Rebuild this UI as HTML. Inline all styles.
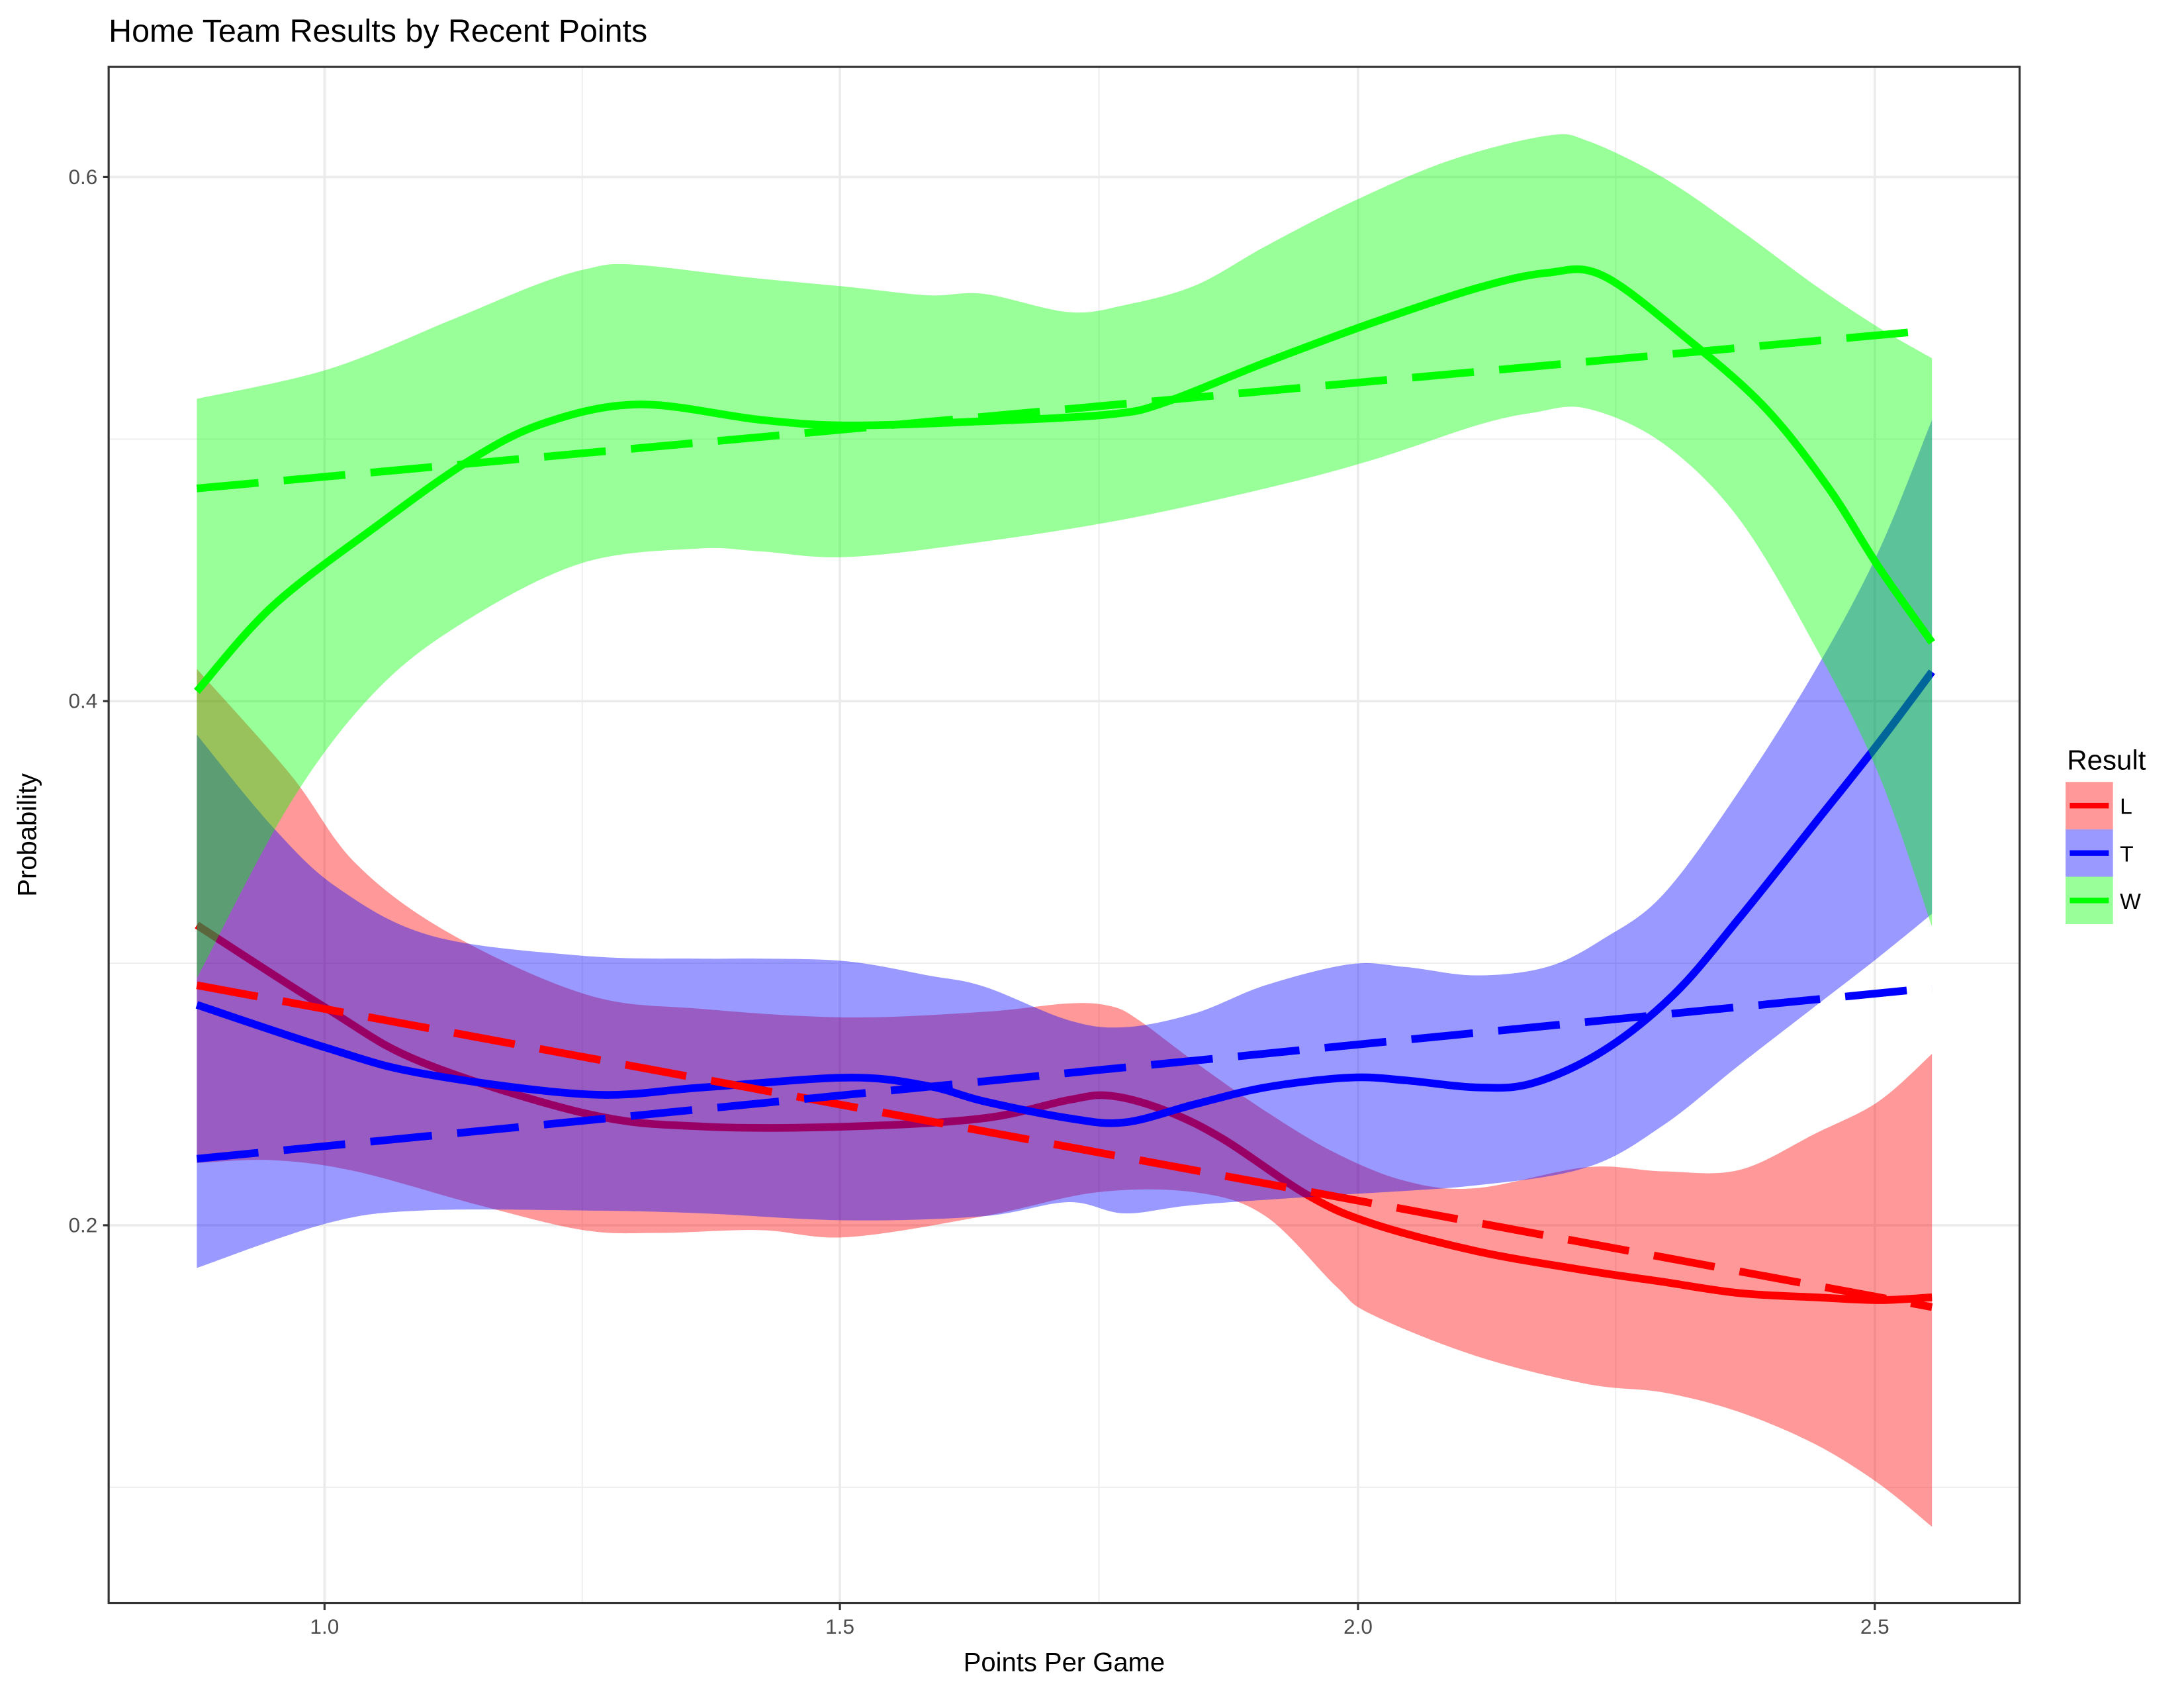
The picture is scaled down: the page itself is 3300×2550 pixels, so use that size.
<!DOCTYPE html>
<html><head><meta charset="utf-8"><style>html,body{margin:0;padding:0;background:#fff}svg{display:block}</style></head>
<body>
<svg id="s" width="3300" height="2550" viewBox="0 0 1568 1211" preserveAspectRatio="none" xmlns="http://www.w3.org/2000/svg" font-family="Liberation Sans, Arial, sans-serif">
<rect width="1600" height="1250" fill="#fff"/>
<text x="78" y="30" font-size="23" fill="#000">Home Team Results by Recent Points</text>
<g stroke="#EBEBEB">
<g stroke-width="0.8"><line x1="418" y1="48" x2="418" y2="1150"/><line x1="789" y1="48" x2="789" y2="1150"/><line x1="1160" y1="48" x2="1160" y2="1150"/>
<line x1="78" y1="315" x2="1450" y2="315"/><line x1="78" y1="691" x2="1450" y2="691"/><line x1="78" y1="1067" x2="1450" y2="1067"/></g>
<g stroke-width="1.7"><line x1="233" y1="48" x2="233" y2="1150"/><line x1="603" y1="48" x2="603" y2="1150"/><line x1="975" y1="48" x2="975" y2="1150"/><line x1="1346" y1="48" x2="1346" y2="1150"/>
<line x1="78" y1="127" x2="1450" y2="127"/><line x1="78" y1="503" x2="1450" y2="503"/><line x1="78" y1="879" x2="1450" y2="879"/></g>
</g>
<defs><clipPath id="c"><rect x="78" y="48" width="1372" height="1102"/></clipPath></defs>
<g clip-path="url(#c)">
<g transform="matrix(1.0095,0,0,1.004,0,-1)" stroke-linejoin="round" stroke-linecap="butt">
<polygon class="sm" fill="#FF0000" fill-opacity="0.4" points="140,479 207,555 253,618 320,668 418,712 500,722 603,728 700,724 760,718 790,720 810,730 850,760 900,795 950,825 1000,845 1050,850 1129,835 1183,838 1237,837 1291,811 1336,788 1374,754 1374,1092 1336,1061 1291,1033 1237,1010 1183,996 1129,990 1050,970 975,940 950,920 900,870 850,853 780,853 700,870 603,885 541,880 469,882 415,880 340,862 253,838 194,830 140,832"/>
<polyline class="sm" fill="none" stroke="#FF0000" stroke-width="5.5" points="140,662 233,722 300,760 418,797 500,806 603,806 700,800 760,787 790,784 830,795 870,815 930,855 975,875 1050,895 1129,909 1183,917 1237,925 1291,928 1336,930 1374,928"/>
<polygon class="sm" fill="#0000FF" fill-opacity="0.4" points="140,526 194,592 241,636 308,670 415,684 496,686 541,686 603,688 660,698 700,706 760,730 800,735 850,725 900,705 960,690 1000,692 1050,698 1100,692 1140,672 1183,640 1237,566 1291,480 1336,395 1374,301 1374,654 1336,685 1291,720 1237,762 1183,805 1129,835 1050,848 950,855 850,862 800,868 760,860 700,870 603,873 500,868 418,866 300,866 233,875 140,907"/>
<polyline class="sm" fill="none" stroke="#0000FF" stroke-width="5.5" points="140,719 233,750 300,768 418,783 500,778 603,771 660,777 700,788 760,800 800,803 850,790 900,778 960,771 1000,773 1050,778 1090,775 1140,752 1190,712 1237,657 1291,589 1336,532 1374,481"/>
<polygon class="sm" fill="#00FF00" fill-opacity="0.4" points="140,286 233,265 320,230 380,205 418,193 450,190 530,199 603,206 660,212 700,211 760,224 800,219 850,205 900,177 960,146 1030,116 1100,98 1130,102 1183,128 1237,165 1291,205 1336,235 1374,257 1374,663 1336,554 1291,463 1237,372 1183,318 1129,293 1090,296 1050,305 975,330 900,350 800,372 700,388 603,399 541,395 496,393 415,403 334,443 269,493 207,574 140,700"/>
<polyline class="sm" fill="none" stroke="#00FF00" stroke-width="5.5" points="140,495 194,434 269,376 334,330 388,303 455,290 541,301 603,305 700,302 790,297 830,288 900,260 975,232 1050,207 1100,196 1140,198 1201,244 1255,292 1300,349 1336,406 1374,460"/>
<g fill="none" stroke-width="5.5" stroke-dasharray="44 18">
<line x1="140" y1="705" x2="1374" y2="935" stroke="#FF0000"/>
<line x1="140" y1="829" x2="1374" y2="707" stroke="#0000FF"/>
<line x1="140" y1="350" x2="1374" y2="237" stroke="#00FF00"/>
</g>
</g>
</g>
<rect x="78" y="48" width="1372" height="1102" fill="none" stroke="#333" stroke-width="1.5"/>
<g stroke="#333" stroke-width="1.5">
<line x1="74" y1="127" x2="78" y2="127"/><line x1="74" y1="503" x2="78" y2="503"/><line x1="74" y1="879" x2="78" y2="879"/>
<line x1="233" y1="1150" x2="233" y2="1155"/><line x1="603" y1="1150" x2="603" y2="1155"/><line x1="975" y1="1150" x2="975" y2="1155"/><line x1="1346" y1="1150" x2="1346" y2="1155"/>
</g>
<g font-size="15" fill="#4D4D4D">
<text x="70" y="132" text-anchor="end">0.6</text><text x="70" y="508" text-anchor="end">0.4</text><text x="70" y="884" text-anchor="end">0.2</text>
<text x="233" y="1172" text-anchor="middle">1.0</text><text x="603" y="1172" text-anchor="middle">1.5</text><text x="975" y="1172" text-anchor="middle">2.0</text><text x="1346" y="1172" text-anchor="middle">2.5</text>
</g>
<text x="764" y="1199" font-size="19" text-anchor="middle" fill="#000">Points Per Game</text>
<text transform="translate(26,599) rotate(-90)" font-size="19" text-anchor="middle" fill="#000">Probability</text>
<text x="1484" y="552" font-size="20" fill="#000">Result</text>
<rect x="1483" y="561" width="34" height="34" fill="#FF0000" fill-opacity="0.4"/>
<rect x="1483" y="595" width="34" height="34" fill="#0000FF" fill-opacity="0.4"/>
<rect x="1483" y="629" width="34" height="34" fill="#00FF00" fill-opacity="0.4"/>
<rect x="1486" y="576" width="28" height="4" fill="#FF0000"/>
<rect x="1486" y="610" width="28" height="4" fill="#0000FF"/>
<rect x="1486" y="644" width="28" height="4" fill="#00FF00"/>
<g font-size="16" fill="#000"><text x="1522" y="584">L</text><text x="1522" y="618">T</text><text x="1522" y="652">W</text></g>
</svg>
<script>
(function(){
var NS="http://www.w3.org/2000/svg";
function cr(p){var d="M"+p[0][0]+","+p[0][1];for(var i=0;i<p.length-1;i++){var a=p[i-1]||p[i],b=p[i],c=p[i+1],e=p[i+2]||c;
d+=" C"+(b[0]+(c[0]-a[0])/6).toFixed(1)+","+(b[1]+(c[1]-a[1])/6).toFixed(1)+" "+(c[0]-(e[0]-b[0])/6).toFixed(1)+","+(c[1]-(e[1]-b[1])/6).toFixed(1)+" "+c[0]+","+c[1];}return d;}
var els=document.querySelectorAll(".sm");
for(var k=0;k<els.length;k++){try{var el=els[k];var pts=el.getAttribute("points").trim().split(/\s+/).map(function(s){return s.split(",").map(Number);});
var d;if(el.tagName.toLowerCase()=="polygon"){var n=1;while(n<pts.length&&pts[n][0]>pts[n-1][0])n++;
var lo=pts.slice(n);d=cr(pts.slice(0,n))+" L"+lo[0][0]+","+lo[0][1]+" "+cr(lo).slice(1)+" Z";}else d=cr(pts);
var p=document.createElementNS(NS,"path");p.setAttribute("d",d);
["fill","fill-opacity","stroke","stroke-width"].forEach(function(a){if(el.getAttribute(a))p.setAttribute(a,el.getAttribute(a));});
el.parentNode.replaceChild(p,el);}catch(e){}}
})();
</script>
</body></html>
